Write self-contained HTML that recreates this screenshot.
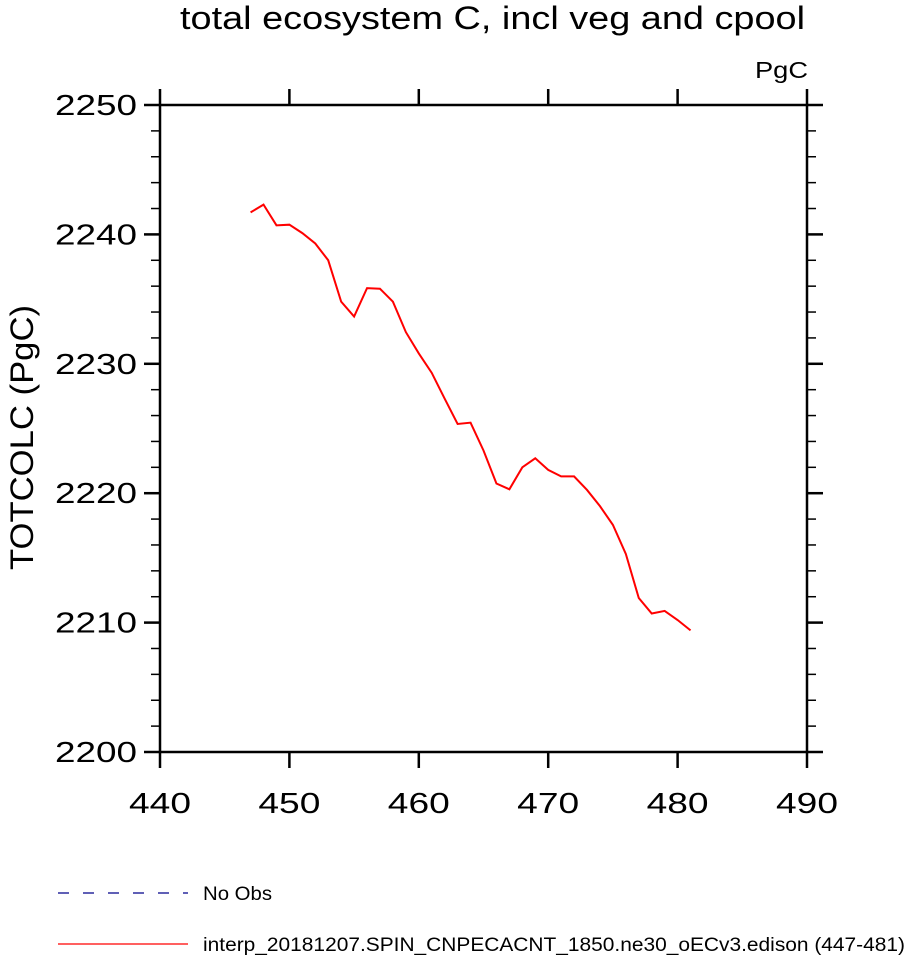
<!DOCTYPE html>
<html><head><meta charset="utf-8"><style>
body{margin:0;background:#fff;}
svg{display:block;font-family:"Liberation Sans",Arial,sans-serif;}
</style></head><body>
<svg id="chart" width="906" height="958" viewBox="0 0 906 958">
<text x="180" y="29" font-size="32" textLength="625" lengthAdjust="spacingAndGlyphs">total ecosystem C, incl veg and cpool</text>
<text x="755" y="78" font-size="23" textLength="53" lengthAdjust="spacingAndGlyphs">PgC</text>
<text transform="translate(33,570) rotate(-90)" font-size="32" textLength="265" lengthAdjust="spacingAndGlyphs">TOTCOLC  (PgC)</text>
<g id="axes" stroke="#000" stroke-width="2.5" fill="none"></g>
<g id="labels" font-size="29"></g>
<polyline id="series" fill="none" stroke="#ff0000" stroke-width="2"/>
<line x1="58" y1="893" x2="188" y2="893" stroke="#00008b" stroke-width="1.3" stroke-dasharray="11,14"/>
<text x="203" y="900" font-size="19" textLength="69" lengthAdjust="spacingAndGlyphs">No Obs</text>
<line x1="58" y1="944" x2="188" y2="944" stroke="#ff0000" stroke-width="1.3"/>
<text x="203" y="951" font-size="19" textLength="702" lengthAdjust="spacingAndGlyphs">interp_20181207.SPIN_CNPECACNT_1850.ne30_oECv3.edison (447-481)</text>
</svg>
<script>
const years=[447,448,449,450,451,452,453,454,455,456,457,458,459,460,461,462,463,464,465,466,467,468,469,470,471,472,473,474,475,476,477,478,479,480,481];
const values=[2241.7,2242.3,2240.7,2240.75,2240.1,2239.3,2238.0,2234.8,2233.65,2235.85,2235.8,2234.8,2232.45,2230.8,2229.3,2227.3,2225.35,2225.45,2223.3,2220.75,2220.3,2222.0,2222.7,2221.8,2221.3,2221.3,2220.25,2219.0,2217.55,2215.3,2211.9,2210.7,2210.9,2210.2,2209.4];
const xTicks=[440,450,460,470,480,490];
const yTicks=[2200,2210,2220,2230,2240,2250];
const X0=160,X1=807,Y0=752,Y1=105;
const xMin=440,xMax=490,yMin=2200,yMax=2250;
function sx(v){return X0+(v-xMin)/(xMax-xMin)*(X1-X0);}
function sy(v){return Y0-(v-yMin)/(yMax-yMin)*(Y0-Y1);}
const NS="http://www.w3.org/2000/svg";
const axes=document.getElementById('axes'),labels=document.getElementById('labels');
function ln(x1,y1,x2,y2,w,name){const l=document.createElementNS(NS,'line');l.setAttribute('x1',x1);l.setAttribute('y1',y1);l.setAttribute('x2',x2);l.setAttribute('y2',y2);if(w)l.setAttribute('stroke-width',w);


axes.appendChild(l);}
const fr=document.createElementNS(NS,'rect');fr.setAttribute('x',X0);fr.setAttribute('y',Y1);fr.setAttribute('width',X1-X0);fr.setAttribute('height',Y0-Y1);


axes.appendChild(fr);
xTicks.forEach(v=>{const x=sx(v);ln(x,Y0,x,Y0+16,null,'x-tick');ln(x,Y1,x,Y1-16,null,'x-tick-top');
const t=document.createElementNS(NS,'text');t.setAttribute('x',x-31);t.setAttribute('y',Y0+61);t.setAttribute('textLength',62);t.setAttribute('lengthAdjust','spacingAndGlyphs');t.textContent=v;


labels.appendChild(t);});
yTicks.forEach(v=>{const y=sy(v);ln(X0,y,X0-16,y,null,'y-tick');ln(X1,y,X1+16,y,null,'y-tick-right');
const t=document.createElementNS(NS,'text');t.setAttribute('x',X0-105);t.setAttribute('y',y+10);t.setAttribute('textLength',82);t.setAttribute('lengthAdjust','spacingAndGlyphs');t.textContent=v;


labels.appendChild(t);});
for(let v=yMin;v<=yMax;v+=2){if(v%10===0)continue;const y=sy(v);ln(X0,y,X0-9,y,1.5,'y-minor-tick');ln(X1,y,X1+9,y,1.5,'y-minor-tick-right');}
document.getElementById('series').setAttribute('points',years.map((y,i)=>sx(y)+','+sy(values[i])).join(' '));
</script>
</body></html>
